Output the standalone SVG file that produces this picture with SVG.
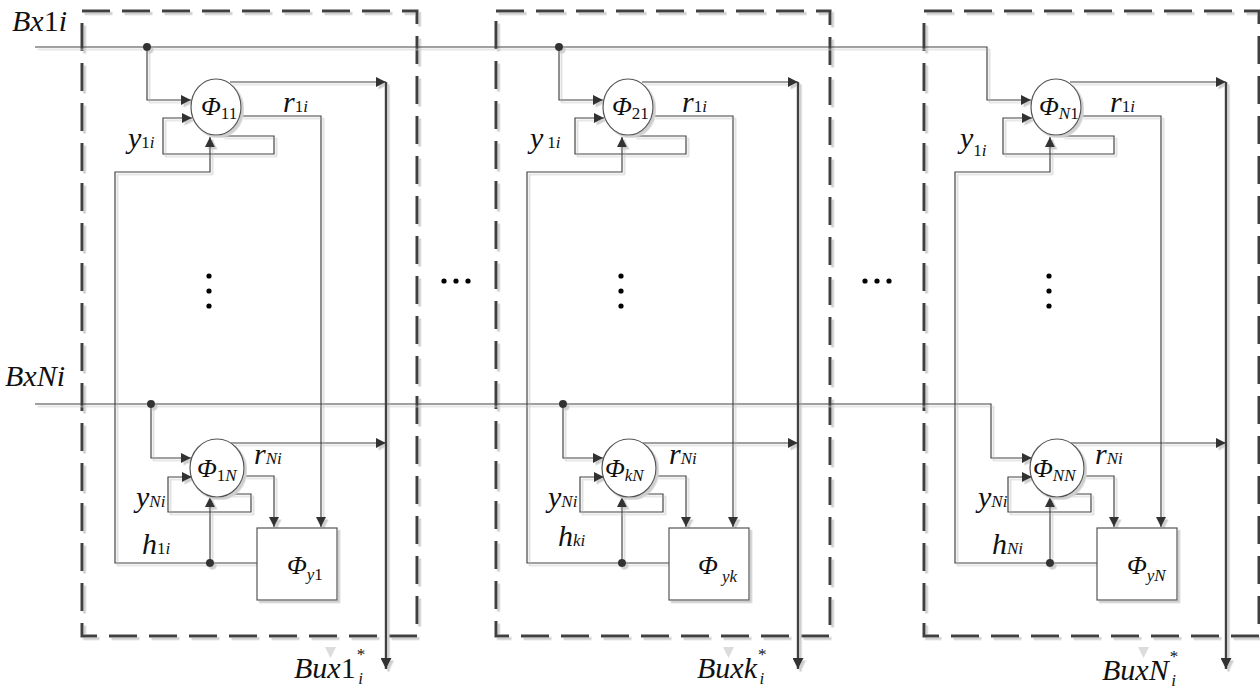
<svg xmlns="http://www.w3.org/2000/svg" width="1260" height="691" viewBox="0 0 1260 691">
<style>
text{font-family:"Liberation Serif","Times New Roman",serif;font-style:italic;fill:#111}
.big{font-size:30px}
.phi{font-size:26px}
.s{font-size:17px}
.n{font-style:normal}
.frame{fill:none;stroke:#404040;stroke-width:3;stroke-dasharray:28 12}
.node{fill:#fff;stroke:#555;stroke-width:1.2}
.ln{fill:none;stroke:#444;stroke-width:1.2}
.ar{marker-end:url(#ah)}
.thick{fill:none;stroke:#404040;stroke-width:2.4;marker-end:url(#ahb)}
.dot{fill:#333}
.bd{fill:#000}
</style>
<defs>
<marker id="ah" viewBox="0 0 10 10" refX="10" refY="5" markerWidth="10" markerHeight="10" markerUnits="userSpaceOnUse" orient="auto"><path d="M0,0 L10,5 L0,10 Z" fill="#333"/></marker>
<marker id="ahb" viewBox="0 0 10 10" refX="10" refY="5" markerWidth="11" markerHeight="11" markerUnits="userSpaceOnUse" orient="auto"><path d="M0,0 L10,5 L0,10 Z" fill="#333"/></marker>
<filter id="sh" x="-5%" y="-5%" width="110%" height="110%"><feDropShadow dx="2.5" dy="2.5" stdDeviation="0.6" flood-color="#cfcfcf" flood-opacity="1"/></filter>
</defs>
<rect width="1260" height="691" fill="#fff"/>

<g id="frame1" filter="url(#sh)"><rect class="frame" x="82" y="11" width="335" height="625"/></g>
<g id="frame2" filter="url(#sh)"><rect class="frame" x="496" y="11" width="334" height="625"/></g>
<g id="frame3" filter="url(#sh)"><rect class="frame" x="924" y="11" width="335" height="625"/></g>

<g id="connectors" filter="url(#sh)">
<path class="ln ar" d="M35,47 H987 V100 H1031"/>
<path class="ln ar" d="M147,47 V100 H191"/>
<path class="ln ar" d="M559,47 V100 H603"/>
<path class="ln ar" d="M35,404 H991 V458 H1032"/>
<path class="ln ar" d="M151,404 V458 H191"/>
<path class="ln ar" d="M563,404 V458 H603"/>
<circle class="dot" cx="147" cy="47" r="4"/>
<circle class="dot" cx="559" cy="47" r="4"/>
<circle class="dot" cx="151" cy="404" r="4"/>
<circle class="dot" cx="563" cy="404" r="4"/>
<g id="conn-b1">
<path class="ln ar" d="M230,82 H386"/>
<path class="thick" d="M386,82 V669"/>
<path class="ln ar" d="M231,443 H386"/>
<path class="ln ar" d="M241,116 H321 V527"/>
<path class="ln ar" d="M244,476 H274 V527"/>
<path class="ln ar" d="M222,136 H274 V154 H163 V118 H192"/>
<path class="ln ar" d="M230,494 H251 V512 H168 V477 H192"/>
<path class="ln ar" d="M257,563 H115 V172 H210 V137"/>
<path class="ln ar" d="M210,563 V497"/>
<circle class="dot" cx="210" cy="563" r="4"/>
</g>
<g id="conn-b2" transform="translate(412,0)">
<path class="ln ar" d="M230,82 H386"/>
<path class="thick" d="M386,82 V669"/>
<path class="ln ar" d="M231,443 H386"/>
<path class="ln ar" d="M241,116 H321 V527"/>
<path class="ln ar" d="M244,476 H274 V527"/>
<path class="ln ar" d="M222,136 H274 V154 H163 V118 H192"/>
<path class="ln ar" d="M230,494 H251 V512 H168 V477 H192"/>
<path class="ln ar" d="M257,563 H115 V172 H210 V137"/>
<path class="ln ar" d="M210,563 V497"/>
<circle class="dot" cx="210" cy="563" r="4"/>
</g>
<g id="conn-b3" transform="translate(840,0)">
<path class="ln ar" d="M230,82 H386"/>
<path class="thick" d="M386,82 V669"/>
<path class="ln ar" d="M231,443 H386"/>
<path class="ln ar" d="M241,116 H321 V527"/>
<path class="ln ar" d="M244,476 H274 V527"/>
<path class="ln ar" d="M222,136 H274 V154 H163 V118 H192"/>
<path class="ln ar" d="M230,494 H251 V512 H168 V477 H192"/>
<path class="ln ar" d="M257,563 H115 V172 H210 V137"/>
<path class="ln ar" d="M210,563 V497"/>
<circle class="dot" cx="210" cy="563" r="4"/>
</g>
</g>

<g id="phi11" filter="url(#sh)"><ellipse class="node" cx="216" cy="107" rx="25" ry="28"/></g>
<g id="phi11-t"><text class="phi" x="201" y="115">Φ<tspan class="s n" dy="4">11</tspan></text></g>
<g id="phi1N" filter="url(#sh)"><ellipse class="node" cx="217" cy="468" rx="27" ry="29"/></g>
<g id="phi1N-t"><text class="phi" x="197" y="477">Φ<tspan class="s n" dy="4">1</tspan><tspan class="s">N</tspan></text></g>
<g id="phiy1" filter="url(#sh)"><rect class="node" x="257" y="528" width="80" height="72"/></g>
<g id="phiy1-t"><text class="phi" x="287" y="574">Φ<tspan class="s" dy="6">y</tspan><tspan class="s n">1</tspan></text></g>

<g id="phi21" filter="url(#sh)"><ellipse class="node" cx="628" cy="107" rx="25" ry="28"/></g>
<g id="phi21-t"><text class="phi" x="612" y="115">Φ<tspan class="s n" dy="4">21</tspan></text></g>
<g id="phikN" filter="url(#sh)"><ellipse class="node" cx="629" cy="468" rx="27" ry="29"/></g>
<g id="phikN-t"><text class="phi" x="605" y="477">Φ<tspan class="s" dy="4">kN</tspan></text></g>
<g id="phiyk" filter="url(#sh)"><rect class="node" x="669" y="528" width="80" height="72"/></g>
<g id="phiyk-t"><text class="phi" x="698" y="574">Φ<tspan class="s" dy="8"> yk</tspan></text></g>

<g id="phiN1" filter="url(#sh)"><ellipse class="node" cx="1056" cy="107" rx="25" ry="28"/></g>
<g id="phiN1-t"><text class="phi" x="1039" y="115">Φ<tspan class="s" dy="4">N</tspan><tspan class="s n">1</tspan></text></g>
<g id="phiNN" filter="url(#sh)"><ellipse class="node" cx="1057" cy="468" rx="27" ry="29"/></g>
<g id="phiNN-t"><text class="phi" x="1033" y="477">Φ<tspan class="s" dy="4">NN</tspan></text></g>
<g id="phiyN" filter="url(#sh)"><rect class="node" x="1097" y="528" width="80" height="72"/></g>
<g id="phiyN-t"><text class="phi" x="1127" y="574">Φ<tspan class="s" dy="7">yN</tspan></text></g>

<g id="labels">
<text class="big" x="12" y="31">Bx<tspan class="n">1</tspan>i</text>
<text class="big" x="5" y="386">BxNi</text>

<text class="big" x="283" y="112">r<tspan class="s n">1</tspan><tspan class="s">i</tspan></text>
<text class="big" x="128" y="148">y<tspan class="s n">1</tspan><tspan class="s">i</tspan></text>
<text class="big" x="254" y="464">r<tspan class="s">Ni</tspan></text>
<text class="big" x="136" y="507">y<tspan class="s">Ni</tspan></text>
<text class="big" x="142" y="554">h<tspan class="s n">1</tspan><tspan class="s">i</tspan></text>
<text class="big" x="294" y="678">Bux<tspan class="n">1</tspan><tspan class="s n" dx="1" dy="-18">*</tspan><tspan class="s" dx="-7" dy="24">i</tspan></text>

<text class="big" x="682" y="112">r<tspan class="s n">1</tspan><tspan class="s">i</tspan></text>
<text class="big" x="530" y="148">y<tspan class="s n" dx="4">1</tspan><tspan class="s">i</tspan></text>
<text class="big" x="669" y="464">r<tspan class="s">Ni</tspan></text>
<text class="big" x="548" y="507">y<tspan class="s">Ni</tspan></text>
<text class="big" x="558" y="546">h<tspan class="s">ki</tspan></text>
<text class="big" x="697" y="678">Buxk<tspan class="s n" dx="1" dy="-18">*</tspan><tspan class="s" dx="-7" dy="24">i</tspan></text>

<text class="big" x="1110" y="112">r<tspan class="s n">1</tspan><tspan class="s">i</tspan></text>
<text class="big" x="960" y="148">y<tspan class="s n" dy="8">1</tspan><tspan class="s">i</tspan></text>
<text class="big" x="1095" y="464">r<tspan class="s">Ni</tspan></text>
<text class="big" x="978" y="507">y<tspan class="s">Ni</tspan></text>
<text class="big" x="992" y="554">h<tspan class="s">Ni</tspan></text>
<text class="big" x="1102" y="680">BuxN<tspan class="s n" dx="1" dy="-18">*</tspan><tspan class="s" dx="-7" dy="24">i</tspan></text>
</g>

<g id="ellipses">
<circle class="bd" cx="209" cy="276" r="2.6"/><circle class="bd" cx="209" cy="291" r="2.6"/><circle class="bd" cx="209" cy="306" r="2.6"/>
<circle class="bd" cx="621" cy="276" r="2.6"/><circle class="bd" cx="621" cy="291" r="2.6"/><circle class="bd" cx="621" cy="306" r="2.6"/>
<circle class="bd" cx="1049" cy="276" r="2.6"/><circle class="bd" cx="1049" cy="291" r="2.6"/><circle class="bd" cx="1049" cy="306" r="2.6"/>
<circle class="bd" cx="444" cy="281" r="2.6"/><circle class="bd" cx="456" cy="281" r="2.6"/><circle class="bd" cx="468" cy="281" r="2.6"/>
<circle class="bd" cx="865" cy="281" r="2.6"/><circle class="bd" cx="877" cy="281" r="2.6"/><circle class="bd" cx="889" cy="281" r="2.6"/>
</g>
<g id="marks" fill="#dcdcdc">
<path d="M325,647 H336 L330.5,658 Z"/>
<path d="M723,647 H734 L728.5,658 Z"/>
<path d="M1138,647 H1149 L1143.5,658 Z"/>
</g>
</svg>
